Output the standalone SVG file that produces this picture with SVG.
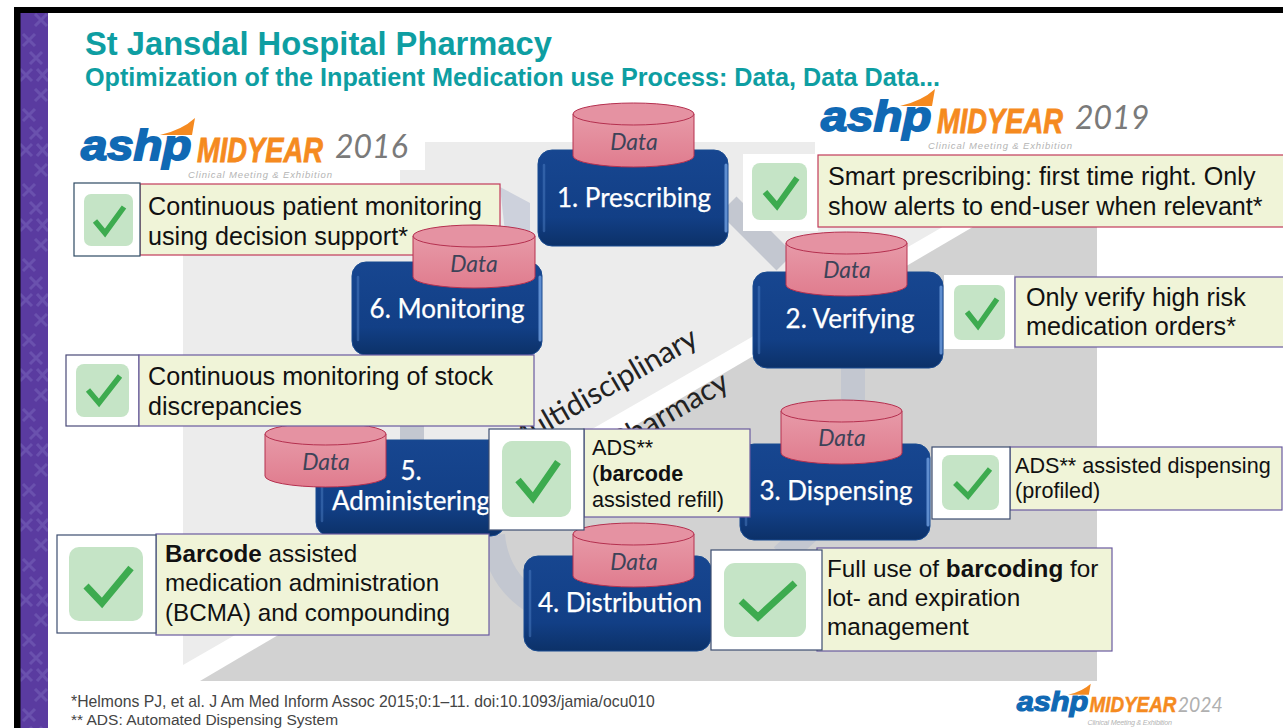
<svg xmlns="http://www.w3.org/2000/svg" width="1283" height="728" viewBox="0 0 1283 728">
<style>
.node{fill:url(#nodeFill);stroke:#184a90;stroke-width:1}
.edge{fill:none;stroke:#6c9bdc;stroke-width:3;stroke-linecap:round;opacity:.85}
.hl{fill:none;stroke:#5b8bd0;stroke-width:2.5;stroke-linecap:round;opacity:.4}
.nlabel{font-family:Lato,"Open Sans",sans-serif;font-size:26px;fill:#fff;stroke:#fff;stroke-width:.25;text-anchor:middle}
.cyl{fill:url(#cylFill);stroke:#b5304f;stroke-width:1}
.cyltop{fill:#e592a2;stroke:#b5304f;stroke-width:1}
.data{font-family:Lato,"Open Sans",sans-serif;font-style:italic;font-size:23px;fill:#3d4358;text-anchor:middle}
.white{fill:#fff}
.tick{fill:#c5e4c6;}
.mark{fill:none;stroke:#3dab4f;stroke-linecap:butt;stroke-linejoin:miter}
.tb{fill:#f0f4d8;stroke:#6a5aa0;stroke-width:1.2}
.tbr{fill:#f0f4d8;stroke:#c23a5a;stroke-width:1.2}
.t{font-family:"Liberation Sans",Arial,sans-serif;fill:#111}
.b{font-weight:700}
.ring{fill:none;stroke:#c3c7d0;stroke-width:24}
.ashp{font-family:"Liberation Sans",Arial,sans-serif;font-weight:700;font-style:italic;font-size:43px;fill:#1069b4;stroke:#1069b4;stroke-width:1.8}
.mid{font-family:"Liberation Sans",Arial,sans-serif;font-weight:700;font-style:italic;font-size:35px;fill:#f58a20;stroke:#f58a20;stroke-width:.8}
.yr{font-family:Lato,"Liberation Sans",sans-serif;font-style:italic;font-size:32px;fill:#7a7a7a}
.cm{font-family:"Liberation Sans",Arial,sans-serif;font-style:italic;font-size:9.5px;fill:#b4b4b4}
.swoosh{fill:#f58a20}
.rot{font-family:Lato,"Open Sans",sans-serif;font-size:30px;fill:#222;text-anchor:end}
.foot{font-family:"Liberation Sans",Arial,sans-serif;fill:#444}
</style>
<defs>
<linearGradient id="nodeFill" x1="0" y1="0" x2="0" y2="1"><stop offset="0" stop-color="#174690"/><stop offset=".7" stop-color="#123f86"/><stop offset="1" stop-color="#0c3168"/></linearGradient>
<linearGradient id="cylFill" x1="0" y1="0" x2="0" y2="1"><stop offset="0" stop-color="#e79aa8"/><stop offset="1" stop-color="#e07c8e"/></linearGradient>
<pattern id="xs" x="20" y="13" width="28" height="75" patternUnits="userSpaceOnUse"><rect width="28" height="75" fill="#5a3ba0"/><path d="M15 1l12 12M27 1l-12 12M3 21l12 12M15 21l-12 12M10 39l12 12M22 39l-12 12M0 56l12 12M12 56l-12 12M17 56l11 12M28 56l-11 12" stroke="#6a51ae" stroke-width="3" fill="none"/></pattern>
</defs>
<rect width="1283" height="728" fill="#fff"/>
<rect x="20" y="13" width="28" height="715" fill="url(#xs)"/>
<rect x="14" y="7" width="1269" height="6" fill="#000"/>
<rect x="14" y="7" width="6.5" height="721" fill="#000"/>
<text x="85" y="55" font-family="'Liberation Sans',Arial,sans-serif" font-weight="700" font-size="32.7px" fill="#0e9ea2">St Jansdal Hospital Pharmacy</text>
<text x="85" y="86" font-family="'Liberation Sans',Arial,sans-serif" font-weight="700" font-size="25.2px" fill="#0e9ea2">Optimization of the Inpatient Medication use Process: Data, Data Data...</text>
<polygon points="183,142 1090,142 183,665" fill="#ececec"/>
<polygon points="1097,154 1097,681 200,681" fill="#d2d2d2"/>
<rect x="183" y="142" width="242" height="28" fill="#fff"/>
<rect x="183" y="170" width="217" height="15" fill="#fff"/>
<rect x="815" y="86" width="340" height="69" fill="#fff"/>
<text class="rot" transform="translate(700,344) rotate(-30)">Multidisciplinary</text>
<text class="rot" transform="translate(731,388) rotate(-30)">Pharmacy</text>
<g id="connectors">
<path class="ring" d="M728 205L785 262"/>
<path class="ring" d="M853 360V405"/>
<path class="ring" d="M808 532L782 556"/>
<path class="ring" d="M493 535Q497 580 535 603"/>
<path class="ring" d="M412 350V445"/>
<polygon points="500,187 530,203 530,232 505,232" fill="#cdd1dc"/>
</g>
<g id="logo-2016">
<path class="swoosh" d="M160 135Q182 130 195 118L192 135Z"/>
<text class="ashp" transform="translate(81,160) scale(1.1,1)">ashp</text>
<text class="mid" transform="translate(197,162) scale(.78,1)">MIDYEAR</text>
<text class="yr" x="335" y="158">2016</text>
<text class="cm" x="188" y="178" textLength="144">Clinical Meeting &amp; Exhibition</text>
</g>
<g id="logo-2019" transform="translate(740,-29)">
<path class="swoosh" d="M160 135Q182 130 195 118L192 135Z"/>
<text class="ashp" transform="translate(81,160) scale(1.1,1)">ashp</text>
<text class="mid" transform="translate(197,162) scale(.78,1)">MIDYEAR</text>
<text class="yr" x="335" y="158">2019</text>
<text class="cm" x="188" y="178" textLength="144">Clinical Meeting &amp; Exhibition</text>
</g>
<g id="logo-2024" transform="translate(964,607) scale(.65)">
<path class="swoosh" d="M160 135Q182 130 195 118L192 135Z"/>
<text class="ashp" transform="translate(81,160) scale(1.1,1)">ashp</text>
<text class="mid" transform="translate(193,162) scale(.83,1)">MIDYEAR</text>
<text class="yr" transform="translate(329,162) scale(.93,1)" style="fill:#b0b0b0">2024</text>
<text class="cm" x="190" y="182" textLength="130" style="font-size:11px">Clinical Meeting &amp; Exhibition</text>
</g>
<g id="node-1">
<rect class="node" x="538" y="150" width="190" height="96" rx="14"/>
<path class="edge" d="M726 165V231"/><path class="hl" d="M544 165V231"/>
<text class="nlabel" x="634" y="207">1. Prescribing</text>
<path class="cyl" d="M573 114V156A60.5 11 0 0 0 694 156V114Z"/><ellipse class="cyltop" cx="633.5" cy="114" rx="60.5" ry="11"/>
<text class="data" x="634" y="150">Data</text>
</g>
<g id="node-2">
<rect class="node" x="753" y="272" width="190" height="96" rx="14"/>
<path class="edge" d="M941 287V353"/><path class="hl" d="M759 287V353"/>
<text class="nlabel" x="850" y="328">2. Verifying</text>
<path class="cyl" d="M786 243V285A60.5 11 0 0 0 907 285V243Z"/><ellipse class="cyltop" cx="846.5" cy="243" rx="60.5" ry="11"/>
<text class="data" x="847" y="278">Data</text>
</g>
<g id="node-3">
<rect class="node" x="740" y="444" width="190" height="96" rx="14"/>
<path class="edge" d="M928 459V525"/><path class="hl" d="M746 459V525"/>
<text class="nlabel" x="836" y="500">3. Dispensing</text>
<path class="cyl" d="M781 411V453A60.5 11 0 0 0 902 453V411Z"/><ellipse class="cyltop" cx="841.5" cy="411" rx="60.5" ry="11"/>
<text class="data" x="842" y="446">Data</text>
</g>
<g id="node-4">
<rect class="node" x="524" y="556" width="187" height="95" rx="14"/>
<path class="hl" d="M530 571V636"/>
<text class="nlabel" x="620" y="612">4. Distribution</text>
<path class="cyl" d="M573 534V576A60.5 11 0 0 0 694 576V534Z"/><ellipse class="cyltop" cx="633.5" cy="534" rx="60.5" ry="11"/>
<text class="data" x="634" y="570">Data</text>
</g>
<g id="node-5">
<rect class="node" x="316" y="440" width="189" height="96" rx="14"/>
<path class="hl" d="M322 455V521"/>
<text class="nlabel" x="411" y="480">5.</text>
<text class="nlabel" x="411" y="510">Administering</text>
<path class="cyl" d="M265 434V476A60.5 11 0 0 0 386 476V434Z"/><ellipse class="cyltop" cx="325.5" cy="434" rx="60.5" ry="11"/>
<text class="data" x="326" y="470">Data</text>
</g>
<g id="node-6">
<rect class="node" x="352" y="262" width="190" height="93" rx="14"/>
<path class="edge" d="M540 277V340"/><path class="hl" d="M358 277V340"/>
<text class="nlabel" x="447" y="318">6. Monitoring</text>
</g>
<g id="note-monitoring" font-size="25.15px">
<rect class="tbr" x="140" y="184" width="360" height="71"/>
<rect x="74" y="183" width="66" height="73" class="white" stroke="#2d4a63" stroke-width="1.2"/>
<rect class="tick" x="84" y="194" width="49" height="52" rx="7"/>
<path class="mark" stroke-width="5.5" d="M95 221L105 233L124 207"/>
<text class="t" x="148" y="215">Continuous patient monitoring</text>
<text class="t" x="148" y="245">using decision support*</text>
</g>
<g id="node-6-data">
<path class="cyl" d="M413 236V277A61 11 0 0 0 535 277V236Z"/><ellipse class="cyltop" cx="474" cy="236" rx="61" ry="11"/>
<text class="data" x="474" y="272">Data</text>
</g>
<g id="note-prescribing" font-size="25.15px">
<rect class="white" x="743" y="154" width="75" height="77"/>
<rect class="tbr" x="818" y="155" width="470" height="72"/>
<rect class="tick" x="752" y="163" width="55" height="57" rx="8"/>
<path class="mark" stroke-width="6" d="M765 192L777 206L797 178"/>
<text class="t" x="828" y="185">Smart prescribing: first time right. Only</text>
<text class="t" x="828" y="215">show alerts to end-user when relevant*</text>
</g>
<g id="note-verifying" font-size="25.2px">
<rect class="white" x="944" y="275" width="70" height="74"/>
<rect class="tb" x="1015" y="277" width="275" height="70"/>
<rect class="tick" x="954" y="285" width="51" height="55" rx="7"/>
<path class="mark" stroke-width="5.5" d="M967 312L978 326L997 299"/>
<text class="t" x="1026" y="306">Only verify high risk</text>
<text class="t" x="1026" y="335">medication orders*</text>
</g>
<g id="note-stock" font-size="25.15px">
<rect x="66" y="355" width="73" height="71" class="white" stroke="#4a4a78" stroke-width="1.2"/>
<rect class="tb" x="139" y="355" width="395" height="71"/>
<rect class="tick" x="76" y="364" width="53" height="53" rx="8"/>
<path class="mark" stroke-width="5.5" d="M88 390L99 403L120 376"/>
<text class="t" x="148" y="385">Continuous monitoring of stock</text>
<text class="t" x="148" y="415">discrepancies</text>
</g>
<g id="note-bcma" font-size="24.2px">
<rect class="tb" x="156" y="534" width="333" height="101"/>
<rect x="57" y="535" width="99" height="98" class="white" stroke="#3d4d70" stroke-width="1.2"/>
<rect class="tick" x="69" y="547" width="74" height="74" rx="10"/>
<path class="mark" stroke-width="7" d="M86 586L102 603L131 568"/>
<text class="t" x="165" y="562"><tspan class="b">Barcode</tspan> assisted</text>
<text class="t" x="165" y="591">medication administration</text>
<text class="t" x="165" y="621">(BCMA) and compounding</text>
</g>
<g id="note-refill" font-size="21.6px">
<rect class="tb" x="584" y="429" width="166" height="88"/>
<rect x="489" y="429" width="95" height="101" class="white" stroke="#3d4d70" stroke-width="1.2"/>
<rect class="tick" x="502" y="441" width="69" height="76" rx="10"/>
<path class="mark" stroke-width="7" d="M518 480L533 498L558 462"/>
<text class="t" x="592" y="455">ADS**</text>
<text class="t" x="592" y="481">(<tspan class="b">barcode</tspan></text>
<text class="t" x="592" y="507">assisted refill)</text>
</g>
<g id="note-dispensing" font-size="21.6px">
<rect class="tb" x="1010" y="447" width="272" height="63"/>
<rect x="932" y="447" width="78" height="72" class="white" stroke="#3d4d70" stroke-width="1.2"/>
<rect class="tick" x="942" y="455" width="57" height="55" rx="8"/>
<path class="mark" stroke-width="5.5" d="M955 483L968 496L990 469"/>
<text class="t" x="1015" y="473">ADS** assisted dispensing</text>
<text class="t" x="1015" y="498">(profiled)</text>
</g>
<g id="note-distribution" font-size="24.3px">
<rect class="tb" x="817" y="548" width="295" height="103"/>
<rect x="711" y="550" width="111" height="100" class="white" stroke="#3d4d70" stroke-width="1.2"/>
<rect class="tick" x="724" y="563" width="82" height="74" rx="11"/>
<path class="mark" stroke-width="7" d="M741 601L758 617L795 583"/>
<text class="t" x="827" y="577">Full use of <tspan class="b">barcoding</tspan> for</text>
<text class="t" x="827" y="606">lot- and expiration</text>
<text class="t" x="827" y="635">management</text>
</g>
<text class="foot" font-size="15.75px" x="71" y="707">*Helmons PJ, et al. J Am Med Inform Assoc 2015;0:1–11. doi:10.1093/jamia/ocu010</text>
<text class="foot" font-size="15.5px" x="71" y="725">** ADS: Automated Dispensing System</text>
</svg>
